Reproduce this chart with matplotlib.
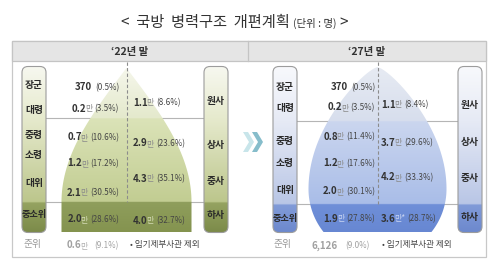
import numpy as np
import matplotlib
matplotlib.use("Agg")
import matplotlib.pyplot as plt
from matplotlib.patches import Polygon, FancyBboxPatch, Rectangle
from matplotlib.colors import to_rgb

plt.rcParams['font.family'] = ['Noto Sans CJK KR', 'DejaVu Sans']

# ---------------- data ----------------
title_main = '<  국방  병력구조  개편계획'
title_unit = '(단위 : 명)'
period_labels = ['‘22년 말', '‘27년 말']
officer_ranks = ['장군', '대령', '중령', '소령', '대위', '중소위']
nco_ranks = ['원사', '상사', '중사', '하사']
warrant_rank = '준위'
officer_22 = ['370', '0.2만', '0.7만', '1.2만', '2.1만', '2.0만']
officer_22_pct = ['(0.5%)', '(3.5%)', '(10.6%)', '(17.2%)', '(30.5%)', '(28.6%)']
nco_22 = ['1.1만', '2.9만', '4.3만', '4.0만']
nco_22_pct = ['(8.6%)', '(23.6%)', '(35.1%)', '(32.7%)']
warrant_22 = '0.6만'
warrant_22_pct = '(9.1%)'
officer_27 = ['370', '0.2만', '0.8만', '1.2만', '2.0만', '1.9만']
officer_27_pct = ['(0.5%)', '(3.5%)', '(11.4%)', '(17.6%)', '(30.1%)', '(27.8%)']
nco_27 = ['1.1만', '3.7만', '4.2만', '3.6만*']
nco_27_pct = ['(8.4%)', '(29.6%)', '(33.3%)', '(28.7%)']
warrant_27 = '6,126'
warrant_27_pct = '(9.0%)'
footnote = '• 임기제부사관 제외'

# ---------------- figure ----------------
W, H = 500, 269
fig = plt.figure(figsize=(W / 100, H / 100), dpi=100)
ax = fig.add_axes([0, 0, 1, 1])
ax.set_xlim(0, W)
ax.set_ylim(H, 0)
ax.axis('off')
renderer = fig.canvas.get_renderer()


def gradient_fill(patch, x0, x1, stops, z):
    ys = np.linspace(stops[0][0], stops[-1][0], 300)
    pos = [s[0] for s in stops]
    cols = np.array([to_rgb(s[1]) for s in stops])
    arr = np.zeros((len(ys), 1, 3))
    for k in range(3):
        arr[:, 0, k] = np.interp(ys, pos, cols[:, k])
    ax.add_patch(patch)
    im = ax.imshow(arr, extent=(x0, x1, ys[-1], ys[0]), origin='upper',
                   aspect='auto', interpolation='bilinear', zorder=z)
    im.set_clip_path(patch)
    ax.set_xlim(0, W)
    ax.set_ylim(H, 0)


def draw_pieces(x, y, pieces, ha='left', z=6):
    arts, widths = [], []
    for s, fs, c, wt, gap in pieces:
        t = ax.text(0, y, s, fontsize=fs, color=c, fontweight=wt,
                    va='baseline', ha='left', zorder=z)
        arts.append(t)
        widths.append(t.get_window_extent(renderer).width + gap)
    total = sum(widths) - pieces[-1][4]
    cur = x if ha == 'left' else x - total
    for t, w in zip(arts, widths):
        t.set_x(cur)
        cur += w


def value_pieces(val, pct, dark='#333333', unit_c='#8a8a8a', pct_c='#444444', gap=3):
    if '만' in val:
        num, unit = val.split('만')
        unit = '만' + unit
        return [(num, 7, dark, 'bold', -1.2), (unit, 5.8, unit_c, 'normal', gap - 1),
                (pct, 5.8, pct_c, 'normal', 0)]
    return [(val, 7, dark, 'bold', gap), (pct, 5.8, pct_c, 'normal', 0)]


# ---------------- title & frame ----------------
draw_pieces(121, 27, [(title_main, 11, '#333333', 'normal', 3),
                      (title_unit, 7.5, '#333333', 'normal', 3),
                      ('>', 11, '#333333', 'normal', 0)])

ax.add_patch(Rectangle((12, 41), 474, 216, facecolor='white', edgecolor='#c8c8c8', lw=0.9, zorder=0))
ax.add_patch(Rectangle((12, 41), 474, 20, facecolor='#e5e5e5', edgecolor='#c4c4c4', lw=0.9, zorder=1))
ax.plot([248, 248], [41, 61], color='#c4c4c4', lw=0.9, zorder=2)
ax.text(130, 51.5, period_labels[0], fontsize=7.5, fontweight='bold', color='#333333',
        ha='center', va='center', zorder=3)
ax.text(367, 51.5, period_labels[1], fontsize=7.5, fontweight='bold', color='#333333',
        ha='center', va='center', zorder=3)

# chevrons
for x0, col in [(243, '#c8e5ea'), (252, '#86bdcb')]:
    y0, y1, w, t = 132, 152, 6, 5
    ym = (y0 + y1) / 2
    ax.add_patch(Polygon([(x0, y0), (x0 + t, y0), (x0 + t + w, ym), (x0 + t, y1), (x0, y1), (x0 + w, ym)],
                         closed=True, facecolor=col, edgecolor='none', zorder=2))

# ---------------- panel geometry ----------------
panels = [
    dict(cx=126.5, apex=68, l1=118, l2=202, bottom=232, pill_l=22, pill_r=204,
         lcol_x=119, rcol_x=133, note_x=130, wo_x=119, shape='green', low_unit='#d3dab4',
         off=officer_22, off_pct=officer_22_pct, nco=nco_22, nco_pct=nco_22_pct,
         wo=warrant_22, wo_pct=warrant_22_pct,
         rank_y=[85, 110, 135, 155, 183, 214], lval_y=[87, 108, 137, 163, 192, 219],
         rval_y=[102, 143, 178, 220], nco_y=[101, 145, 181, 215],
         grad_shape=[(66, '#f6f7ec'), (118, '#e4e9cc'), (118.01, '#dbe3b8'), (202, '#c2cd92'),
                     (202.01, '#8f9e5c'), (233, '#84934f')],
         grad_pill=[(66, '#f7f8f0'), (118, '#e6eacd'), (202, '#bcc68c'), (203, '#95a361'), (233, '#7b8a49')]),
    dict(cx=377.5, apex=67, l1=121, l2=204, bottom=232, pill_l=273, pill_r=458,
         lcol_x=375, rcol_x=381, note_x=382, wo_x=370, shape='drop', low_unit='#c9d5f2',
         off=officer_27, off_pct=officer_27_pct, nco=nco_27, nco_pct=nco_27_pct,
         wo=warrant_27, wo_pct=warrant_27_pct,
         rank_y=[87, 108, 141, 163, 190, 218], lval_y=[87, 107, 136, 163, 191, 218],
         rval_y=[104, 142, 177, 218], nco_y=[105, 142, 178, 217],
         grad_shape=[(66, '#e7ebf3'), (121, '#d7deed'), (121.01, '#cbd6ef'), (204, '#a9bde8'),
                     (204.01, '#6f8fd8'), (233, '#6787d2')],
         grad_pill=[(66, '#f8f9fc'), (121, '#e6eaf5'), (204, '#b9c6e6'), (205, '#819bd8'), (233, '#6c88cd')]),
]

for p in panels:
    cx = p['cx']
    # shape outline
    if p['shape'] == 'green':
        ys = np.linspace(p['apex'], p['l2'], 80)
        t = (ys - p['apex']) / (p['l2'] - p['apex'])
        hw = 65 * np.sin(np.pi / 2 * t)
        ys = np.append(ys, p['bottom'])
        hw = np.append(hw, 65)
    else:
        yw = 189
        ys1 = np.linspace(p['apex'], yw, 80)
        t = (ys1 - p['apex']) / (yw - p['apex'])
        hw1 = 69 * np.sin(np.pi / 2 * t) ** 0.75
        ys2 = np.linspace(yw, p['bottom'], 40)[1:]
        hw2 = np.sqrt(69 ** 2 - (ys2 - yw) ** 2)
        ys = np.concatenate([ys1, ys2])
        hw = np.concatenate([hw1, hw2])
    right = np.column_stack([cx + hw, ys])
    left = np.column_stack([cx - hw, ys])[::-1]
    outline = np.vstack([right, left])
    shape = Polygon(outline, closed=True, facecolor='none', edgecolor='none', zorder=2)
    gradient_fill(shape, cx - 72, cx + 72, p['grad_shape'], 2)

    # horizontal separators
    for yl in (p['l1'], p['l2']):
        ax.plot([p['pill_l'] + 24, p['pill_r']], [yl, yl], color='#b5b5b5', lw=0.8, zorder=1.5)
    # dashed center line
    ax.plot([cx, cx], [62, p['l2']], color='#8c8c8c', lw=0.8, ls=(0, (3, 2)), zorder=3)

    # pills
    for px in (p['pill_l'], p['pill_r']):
        pill = FancyBboxPatch((px, 66.5), 24, 166, boxstyle='round,pad=0,rounding_size=6',
                              facecolor='none', edgecolor='none', zorder=4)
        gradient_fill(pill, px, px + 24, p['grad_pill'], 4)
        ax.add_patch(FancyBboxPatch((px, 66.5), 24, 166, boxstyle='round,pad=0,rounding_size=6',
                                    facecolor='none', edgecolor='#9c9c9c', lw=0.8, zorder=5))

    # rank labels
    lx = p['pill_l'] + 12
    rx = p['pill_r'] + 12
    for r, y in zip(officer_ranks, p['rank_y']):
        ax.text(lx, y, r, fontsize=6.6 if len(r) > 2 else 7, fontweight='bold', color='#2a2a2a',
                ha='center', va='center', zorder=6)
    for r, y in zip(nco_ranks, p['nco_y']):
        ax.text(rx, y, r, fontsize=7, fontweight='bold', color='#2a2a2a',
                ha='center', va='center', zorder=6)
    ax.text(lx - 2, 244.5, warrant_rank, fontsize=7, color='#9a9a9a', ha='center', va='center', zorder=6)

    # values
    n_off = len(p['off'])
    for i, (v, pc, y) in enumerate(zip(p['off'], p['off_pct'], p['lval_y'])):
        uc = p['low_unit'] if i == n_off - 1 else '#8a8a8a'
        draw_pieces(p['lcol_x'], y + 3.5, value_pieces(v, pc, unit_c=uc), ha='right')
    n_nco = len(p['nco'])
    for i, (v, pc, y) in enumerate(zip(p['nco'], p['nco_pct'], p['rval_y'])):
        uc = p['low_unit'] if i == n_nco - 1 else '#8a8a8a'
        draw_pieces(p['rcol_x'], y + 3.5, value_pieces(v, pc, unit_c=uc), ha='left')
    draw_pieces(p['wo_x'], 245 + 3.5,
                value_pieces(p['wo'], p['wo_pct'], dark='#a0a0a0', unit_c='#b0b0b0', pct_c='#a0a0a0', gap=8),
                ha='right')
    ax.text(p['note_x'], 245, footnote, fontsize=6.2, color='#444444', ha='left', va='center', zorder=6)

fig.savefig('out.png', dpi=100)
